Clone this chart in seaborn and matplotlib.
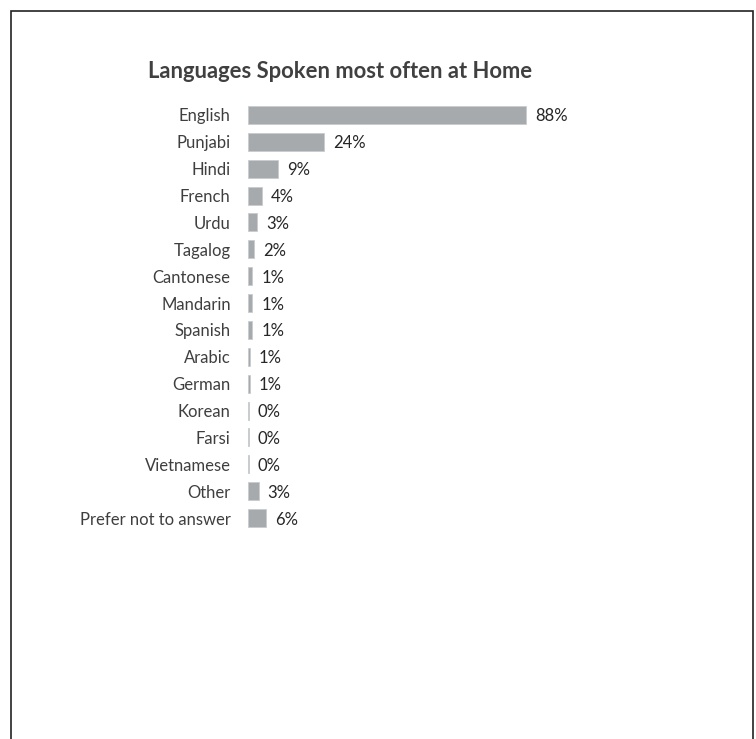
import matplotlib
matplotlib.use("Agg")
import matplotlib.pyplot as plt
import seaborn as sns
import pandas as pd
from matplotlib.patches import Rectangle

languages = ["English", "Punjabi", "Hindi", "French", "Urdu", "Tagalog",
             "Cantonese", "Mandarin", "Spanish", "Arabic", "German",
             "Korean", "Farsi", "Vietnamese", "Other", "Prefer not to answer"]
shares = [88.0, 24.1, 9.4, 4.3, 2.8, 2.0, 1.4, 1.4, 1.3, 0.6, 0.6,
          0.3, 0.3, 0.3, 3.4, 5.7]
title = "Languages Spoken most often at Home"

df = pd.DataFrame({"language": languages, "share": shares})

sns.set_theme(style="white")
plt.rcParams["font.family"] = ["Lato", "DejaVu Sans"]

W, H = 756, 739
fig = plt.figure(figsize=(W / 100, H / 100), dpi=100)
fig.patch.set_facecolor("white")

# axes placed so that bars start at x=248 px and 88% ends near x=526 px
px_per_unit = (526 - 248) / 88.0
xmax = 100
left = 248 / W
width = px_per_unit * xmax / W
row = 26.9
top_px = 115 - row / 2
bottom_px = 518 + row / 2
ax = fig.add_axes([left, 1 - bottom_px / H, width, (bottom_px - top_px) / H])

sns.barplot(data=df, y="language", x="share", orient="h", color="#A6AAAD",
            saturation=1, width=0.67, edgecolor="#C9CCCE", linewidth=0.6, ax=ax)
ax.set_xlim(0, xmax)
ax.set_ylim(len(languages) - 0.5, -0.5)
ax.set_xlabel("")
ax.set_ylabel("")
ax.set_xticks([])
for s in ax.spines.values():
    s.set_visible(False)
ax.tick_params(axis="y", length=0, pad=12.5, labelsize=12, labelcolor="#3F3F3F")
for lbl in ax.get_yticklabels():
    lbl.set_verticalalignment("center_baseline")
ax.set_facecolor("none")

for i, v in enumerate(shares):
    ax.annotate(f"{v:.0f}%", xy=(v, i), xytext=(6.5, 0), textcoords="offset points",
                va="center_baseline", ha="left", fontsize=12, color="#262626",
                annotation_clip=False)

fig.text(340 / W, 1 - 71 / H, title, ha="center", va="center",
         fontsize=15.8, fontweight="bold", color="#404040")

# outer frame (open at the bottom edge)
fig.patches.append(Rectangle((10.5 / W, -0.05), (753 - 10.5) / W, 1.05 - 10.5 / H,
                             transform=fig.transFigure, fill=False,
                             edgecolor="#222222", linewidth=1.2))

fig.savefig("out.png", dpi=100, facecolor="white")
